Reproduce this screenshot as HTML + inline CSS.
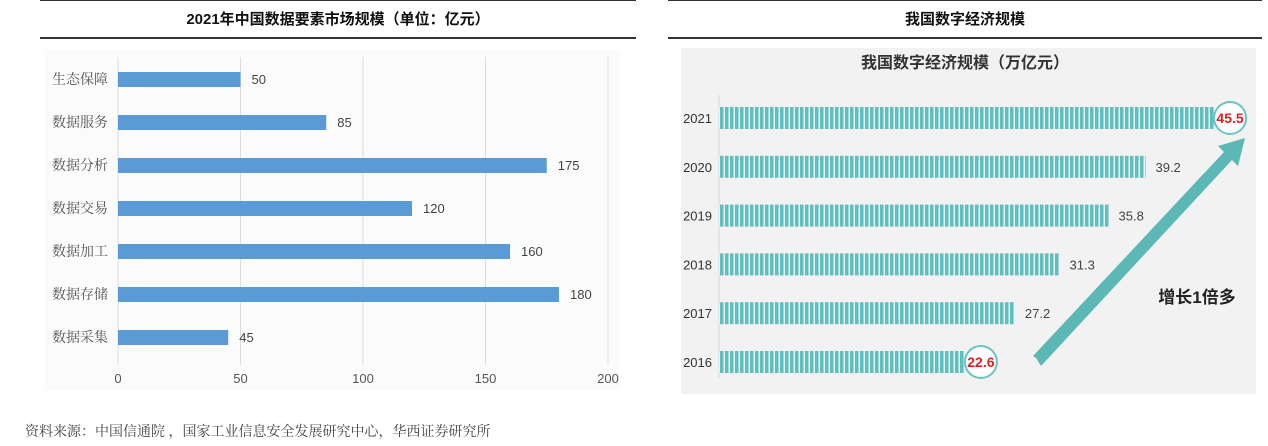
<!DOCTYPE html>
<html><head><meta charset="utf-8"><style>
body{margin:0;width:1268px;height:446px;background:#fff;overflow:hidden;position:relative;font-family:"Liberation Sans","Noto Sans CJK SC",sans-serif;}
.abs{position:absolute;}
</style></head><body>
<div class="abs" style="left:40px;top:0;width:596px;height:1px;background:#333"></div>
<div class="abs" style="left:40px;top:8px;width:596px;text-align:center;font-size:15px;font-weight:bold;color:#111">2021年中国数据要素市场规模（单位：亿元）</div>
<div class="abs" style="left:40px;top:37px;width:596px;height:2px;background:#333"></div>
<div class="abs" style="left:668px;top:0;width:594px;height:1px;background:#333"></div>
<div class="abs" style="left:668px;top:8px;width:594px;text-align:center;font-size:15px;font-weight:bold;color:#111">我国数字经济规模</div>
<div class="abs" style="left:668px;top:37px;width:594px;height:2px;background:#333"></div>
<svg class="abs" style="left:0;top:0" width="1268" height="446" id="svg"></svg>
<div class="abs" style="left:25px;top:421px;font-size:14px;color:#444;font-family:'Liberation Serif','Noto Serif CJK SC',serif">资料来源：中国信通院 ，国家工业信息安全发展研究中心，华西证券研究所</div>
<script>
const leftCats=["生态保障","数据服务","数据分析","数据交易","数据加工","数据存储","数据采集"];
const leftVals=[50,85,175,120,160,180,45];
const leftTicks=[0,50,100,150,200];
const rightYears=["2021","2020","2019","2018","2017","2016"];
const rightVals=[45.5,39.2,35.8,31.3,27.2,22.6];
const NS="http://www.w3.org/2000/svg";
const svg=document.getElementById('svg');
function mk(t,a,p){const e=document.createElementNS(NS,t);for(const k in a)e.setAttribute(k,a[k]);(p||svg).appendChild(e);return e;}
// left chart
const lx=v=>118+v*2.45, ly=i=>79+i*43;
const bg=mk('rect',{x:45,y:50,width:575,height:340,fill:'#fbfbfb'});


leftTicks.forEach(t=>{
 const g=mk('line',{x1:lx(t),x2:lx(t),y1:57,y2:365,stroke:'#ddd','stroke-width':1});
 
 
 const tx=mk('text',{x:lx(t),y:383,'text-anchor':'middle','font-size':13,fill:'#555'});tx.textContent=t;
 
 
});
leftCats.forEach((c,i)=>{
 const y=ly(i);
 const l=mk('text',{x:108,y:y+5,'text-anchor':'end','font-size':14,fill:'#555','font-family':'Liberation Serif,Noto Serif CJK SC,serif'});l.textContent=c;
 
 
 const b=mk('rect',{x:lx(0),y:y-7,width:lx(leftVals[i])-lx(0),height:15,fill:'#5b9bd5'});
 
 
 const v=mk('text',{x:lx(leftVals[i])+11,y:y+5,'font-size':13,fill:'#444'});v.textContent=leftVals[i];
 
 
});
// right chart
const defs=mk('defs',{});
const pat=mk('pattern',{id:'st',width:5,height:10,patternUnits:'userSpaceOnUse'},defs);
mk('rect',{x:0,y:0,width:3.5,height:10,fill:'#62bdbd'},pat);
mk('rect',{x:3.5,y:0,width:1.5,height:10,fill:'#e6f3f3'},pat);
const rbg=mk('rect',{x:681,y:48,width:575,height:346,fill:'#f2f2f2'});


const rt=mk('text',{x:965,y:68,'text-anchor':'middle','font-size':16,'font-weight':'bold',fill:'#333'});rt.textContent='我国数字经济规模（万亿元）';


const rx=v=>719+v*10.88, ry=i=>118+i*48.8;
const ax=mk('line',{x1:719,x2:719,y1:95,y2:378,stroke:'#cfd8dc'});


rightYears.forEach((yr,i)=>{
 const y=ry(i);
 const l=mk('text',{x:712,y:y+5,'text-anchor':'end','font-size':13,fill:'#333'});l.textContent=yr;
 
 
 const b=mk('rect',{x:rx(0),y:y-11,width:rx(rightVals[i])-rx(0),height:22,fill:'url(#st)'});
 
 
 const hl=(i===0||i===rightYears.length-1);
 if(hl){
  const c=mk('circle',{cx:rx(rightVals[i])+16,cy:y,r:16,fill:'#fff',stroke:'#6cc5c2','stroke-width':2});
  
  
 }
 const v=mk('text',{x:hl?rx(rightVals[i])+16:rx(rightVals[i])+10,y:y+5,'text-anchor':hl?'middle':'start','font-size':hl?14:13,'font-weight':hl?'bold':'normal',fill:hl?'#e02020':'#444'});v.textContent=rightVals[i];
 
 
});
const ar=mk('polygon',{points:'1036,358 1041,366 1232,160 1238,166 1245,138 1218,146 1224,152 1033,356',fill:'#5cb8b5'});


const gt=mk('text',{x:1197,y:303,'text-anchor':'middle','font-size':17,'font-weight':'bold',fill:'#222'});gt.textContent='增长1倍多';


</script>
</body></html>
